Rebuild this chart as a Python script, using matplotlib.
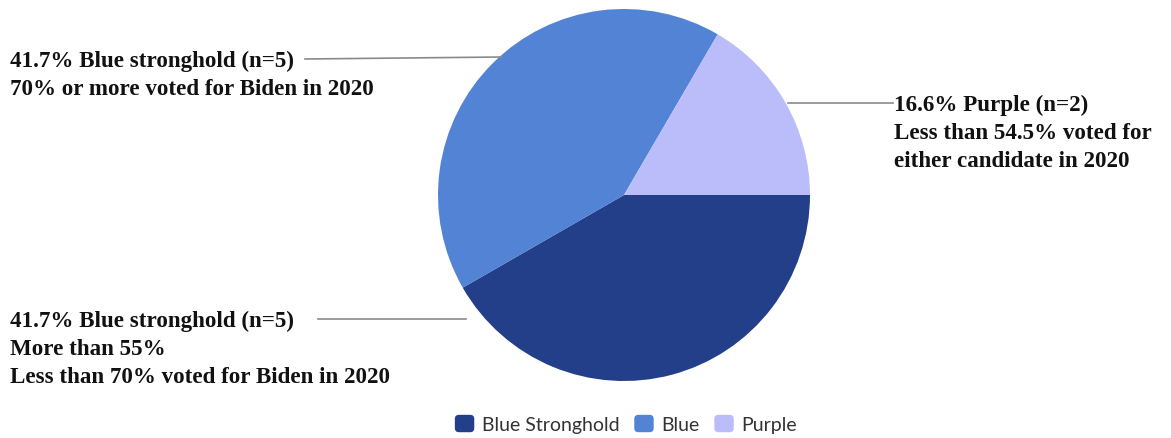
import matplotlib
matplotlib.use("Agg")
import matplotlib.pyplot as plt
from matplotlib.patches import FancyBboxPatch
from matplotlib.legend_handler import HandlerBase

categories = ["Blue Stronghold", "Blue", "Purple"]
shares = [41.7, 41.7, 16.6]
colors = ["#233F8A", "#5283D5", "#BBBDFA"]
label_texts = [
    "41.7% Blue stronghold (n=5)\nMore than 55%\nLess than 70% voted for Biden in 2020",
    "41.7% Blue stronghold (n=5)\n70% or more voted for Biden in 2020",
    "16.6% Purple (n=2)\nLess than 54.5% voted for\neither candidate in 2020",
]

W, H = 1171, 439
fig = plt.figure(figsize=(W / 100, H / 100), dpi=100)
ax = fig.add_axes([0, 0, 1, 1])

cx, cy, r = 624, H - 196, 186
wedges, _ = ax.pie(shares, colors=colors, startangle=0, counterclock=False,
                   center=(cx, cy), radius=r, wedgeprops=dict(linewidth=0),
                   frame=True)
ax.set_xlim(0, W)
ax.set_ylim(0, H)
ax.set_aspect("equal")
ax.axis("off")

tfont = dict(family="Liberation Serif", weight="bold", fontsize=16.6, color="#111111",
             linespacing=1.45)
lc = "#8a8a8a"
# bottom-left label
ax.text(10, H - 310.5, label_texts[0], ha="left", va="top", **tfont)
ax.plot([318, 466], [H - 320, H - 320], color=lc, lw=1.2)
# top-left label
ax.text(10, H - 50.5, label_texts[1], ha="left", va="top", **tfont)
ax.plot([305, 502], [H - 60, H - 58], color=lc, lw=1.2)
# right label
ax.text(894, H - 94.5, label_texts[2], ha="left", va="top", **tfont)
ax.plot([788, 893], [H - 104, H - 104], color=lc, lw=1.2)


class RoundBox(HandlerBase):
    def create_artists(self, legend, orig_handle, xdescent, ydescent, width, height,
                       fontsize, trans):
        p = FancyBboxPatch((-xdescent, -ydescent), width, height,
                           boxstyle="round,pad=0,rounding_size=3",
                           facecolor=orig_handle.get_facecolor(), edgecolor="none",
                           transform=trans)
        return [p]


leg = ax.legend(wedges, categories, loc="center", bbox_to_anchor=(626 / W, 14 / H),
                ncol=3, frameon=False, prop=dict(family="Lato", size=14),
                handlelength=1.0, handleheight=1.0, handletextpad=0.4,
                columnspacing=0.75, labelcolor="#333333",
                handler_map={w: RoundBox() for w in wedges})

fig.savefig("out.png", dpi=100)
